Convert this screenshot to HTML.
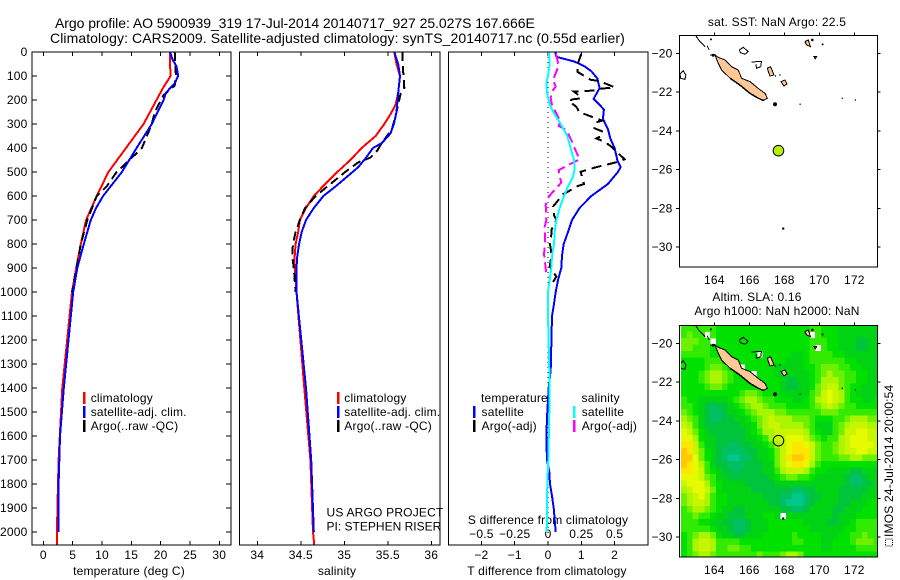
<!DOCTYPE html>
<html>
<head>
<meta charset="utf-8">
<title>Argo profile 5900939_319</title>
<style>
html,body{margin:0;padding:0;background:#fff;}
svg{display:block;}
text{font-family:"Liberation Sans",sans-serif;font-size:12px;letter-spacing:.2px;fill:#000;}
.title{font-size:14px;letter-spacing:.2px;}
</style>
</head>
<body>
<svg id="chart" xmlns="http://www.w3.org/2000/svg" width="900" height="580" viewBox="0 0 900 580">
<defs>
<clipPath id="clip-map-sst"><rect x="679.5" y="35.5" width="198" height="231.5"/></clipPath>
<clipPath id="clip-map-sla"><rect x="681" y="325.5" width="196.5" height="231.5"/></clipPath>
</defs>
<text class="title" x="55" y="28" textLength="480">Argo profile: AO 5900939_319 17-Jul-2014 20140717_927 25.027S 167.666E</text>
<text class="title" x="50" y="43" textLength="575">Climatology: CARS2009. Satellite-adjusted climatology: synTS_20140717.nc (0.55d earlier)</text>
<text x="777" y="26" text-anchor="middle">sat. SST: NaN Argo: 22.5</text>
<text x="757" y="301" text-anchor="middle">Altim. SLA: 0.16</text>
<text x="777" y="315" text-anchor="middle">Argo h1000: NaN h2000: NaN</text>
<text x="129" y="575" text-anchor="middle">temperature (deg C)</text>
<text x="337" y="575" text-anchor="middle">salinity</text>
<text x="547" y="575" text-anchor="middle">T difference from climatology</text>
<text x="548" y="524" text-anchor="middle">S difference from climatology</text>
<text x="326.5" y="516.5">US ARGO PROJECT</text>
<text x="326.5" y="530.5" textLength="115">PI: STEPHEN RISER</text>
<text transform="translate(893,537) rotate(-90)">IMOS 24-Jul-2014 20:00:54</text>
<rect x="885.5" y="539" width="7" height="7" fill="none" stroke="#000" stroke-dasharray="1 1"/>
</svg>
<script>
const depthTicks = [0,100,200,300,400,500,600,700,800,900,1000,1100,1200,1300,1400,1500,1600,1700,1800,1900,2000];
const tempTicks = [0,5,10,15,20,25,30];
const salTicks = [34,34.5,35,35.5,36];
const tDiffTicks = [-2,-1,0,1,2];
const sDiffTicks = [-0.5,-0.25,0,0.25,0.5];
const lonTicks = [164,166,168,170,172];
const latTicks = [-20,-22,-24,-26,-28,-30];

const tempClimDepth = [0,50,100,150,200,300,400,500,600,700,800,900,1000,1400,1700,1900,2055];
const tempClimValues = [21.6,21.6,21.7,20.4,19.3,17.1,14.1,11.1,9.1,7.3,6.4,5.6,4.9,3.24,2.6,2.4,2.3];
const tempSatDepth = [0,30,60,100,130,170,200,300,400,500,600,650,700,800,900,1000,1400,1600,1800,2000];
const tempSatValues = [21.6,22,22.7,23,22.4,20.9,20.5,18.5,15.9,13.4,10.2,9,8.1,6.9,5.8,5.1,3.5,2.85,2.6,2.6];
const tempArgoDepth = [0,100,140,180,250,300,400,480,500,560,600,700,800,900,1000];
const tempArgoValues = [22.4,22.6,22.4,20.5,19,18.5,16.8,13.4,12.5,10.8,9.1,7.5,6.4,5.7,4.9];

const salClimDepth = [0,50,100,170,220,260,300,350,400,450,500,550,600,650,700,750,800,850,900,1000,1400,1700,2000,2055];
const salClimValues = [35.575,35.6,35.64,35.62,35.59,35.53,35.46,35.36,35.2,35.07,34.92,34.78,34.65,34.56,34.49,34.47,34.44,34.43,34.43,34.45,34.54,34.61,34.64,34.655];
const salSatDepth = [0,50,100,170,250,300,340,380,400,440,480,520,560,600,650,700,750,800,850,900,1000,1400,1700,2000];
const salSatValues = [35.575,35.62,35.64,35.62,35.6,35.57,35.53,35.43,35.33,35.25,35.16,35.03,34.9,34.76,34.65,34.56,34.51,34.48,34.46,34.45,34.45,34.56,34.62,34.65];
const salArgoDepth = [0,50,100,150,170,250,320,380,410,440,460,500,550,600,650,700,750,800,850,900,950,1000];
const salArgoValues = [35.67,35.67,35.68,35.69,35.65,35.6,35.55,35.43,35.38,35.3,35.16,35.01,34.84,34.67,34.55,34.49,34.44,34.41,34.4,34.42,34.43,34.44];

const tDiffSatDepth = [0,20,40,60,80,110,150,175,195,220,240,280,320,360,400,450,480,500,550,600,650,700,750,800,850,900,950,1000,1050,1100,1325,1400,1500,1600,1700,1750,1800,1850,1900,2000];
const tDiffSatValues = [.22,.25,.8,1.1,1.3,1.48,1.55,1.45,1.37,1.55,1.68,1.65,1.8,1.87,2,2.08,2.18,2.1,1.8,1.3,.95,.72,.6,.47,.42,.4,.3,.23,.18,.12,.08,.02,-.02,-.05,-.03,.04,.06,.12,.17,.23];
const sDiffSatDepth = [0,50,100,130,170,220,260,300,350,400,450,490,520,560,600,650,700,750,800,850,900,950,1000,1100,1325,1500,1700,1800,2000];
const sDiffSatValues = [.005,.0125,0,-.0125,-.0075,.0125,.05,.095,.145,.17,.195,.2,.1875,.15,.12,.0875,.0625,.05,.045,.03,.025,.0125,0,0,.01,.01,.0025,-.005,-.01];
const tDiffArgoDepth = [8,54,82,105,117,119,130,147,153,158,162,165,172,193,197,204,228,253,260,276,286,294,318,332,350,360,374,394,415,447,457,481,499,519,550,561,582,592,624,644,679,700,742,762,797,818,853,894,915,936,971];
const tDiffArgoValues = [1,.88,.88,1.15,1.3,1.55,1.7,2,1.6,1.5,1.2,.78,.85,1,.75,.62,.85,.95,1.13,1.42,1.63,1.42,1.4,1.65,1.6,1.45,1.7,1.9,2.05,2.3,2.12,1.42,.98,1.02,1.08,.85,.6,.45,.27,.15,.18,.25,.1,.1,.05,.08,.1,.05,.15,.25,.1];
const sDiffArgoDepth = [8,58,82,117,144,169,193,221,256,283,308,325,367,408,447,461,492,519,544,582,603,637,700,728,797,839,867,922,936];
const sDiffArgoValues = [.06,.08,.0625,.0375,.0575,.025,.02,.03,.0625,.0875,.08,.1375,.175,.205,.2375,.1875,.08,.0875,.1,.0375,.005,-.0175,-.0125,-.025,-.02,-.03,-.025,-.0125,.005];

const floatLon = 167.666;
const floatLat = -25.027;
const heatLon0 = 162.1;
const heatLat0 = -19.07;
const heatStep = 1/3;
const slaLevelColors = ['#00c88c','#00bf64','#00c43c','#00d214','#00e100','#32eb00','#6ef000','#aaf500','#c8f500','#e6fa00','#ffe600','#ffc800'];
const slaGrid = [
[5,5,5,5,5,5,4,4,4,4,4,4,4,4,4,4,4,4,4,4,4,4,5,5,4,4,4,3,3,3,3,3,3,3],
[5,6,5,5,null,5,4,4,4,4,4,4,4,4,4,4,4,4,4,4,4,4,null,5,4,4,4,3,3,3,3,3,3,3],
[6,6,6,5,5,null,4,4,4,4,4,4,4,4,4,4,4,4,4,4,4,4,5,5,5,4,4,3,3,3,2,2,3,3],
[6,6,5,5,5,4,4,4,4,4,4,4,4,4,4,4,4,4,4,4,4,4,5,null,5,4,4,3,3,3,2,2,3,3],
[5,5,5,5,5,4,4,4,4,4,4,4,4,null,4,4,4,4,4,3,3,4,5,5,5,5,4,4,3,3,3,3,3,3],
[4,4,4,4,5,5,5,4,4,4,4,4,4,4,4,4,4,4,3,3,3,4,5,5,5,5,5,5,4,4,3,3,3,3],
[4,4,4,4,5,6,6,5,4,4,null,4,4,4,4,4,3,3,3,3,3,4,4,5,6,6,6,5,5,4,4,3,3,3],
[4,4,4,5,6,7,7,6,5,4,4,4,null,4,4,4,3,3,3,3,3,3,4,5,6,7,6,6,5,5,4,4,3,3],
[4,4,4,5,6,7,7,6,5,4,4,4,4,4,4,4,4,3,2,2,3,3,4,5,7,7,7,6,5,5,4,4,3,3],
[4,4,4,4,5,6,6,5,4,4,4,4,4,4,4,4,4,3,2,2,3,3,4,6,7,8,8,6,5,4,4,3,3,3],
[4,4,4,4,4,4,4,4,4,4,5,6,6,5,4,4,4,3,3,3,3,3,5,6,8,9,8,7,5,4,3,3,3,3],
[5,4,4,3,3,3,3,3,4,5,6,7,7,6,5,5,4,4,4,3,3,4,5,7,8,9,8,7,5,4,4,3,3,4],
[5,5,4,3,2,1,2,2,3,4,5,6,7,7,6,5,5,5,4,4,4,4,5,6,7,8,7,6,5,5,4,4,4,4],
[6,5,4,3,2,1,1,2,3,3,4,5,6,7,7,7,6,6,5,5,5,5,5,5,6,6,6,5,5,5,5,5,5,5],
[7,6,5,3,2,1,1,2,2,3,3,4,5,6,7,8,7,7,7,6,6,6,5,4,4,4,5,5,6,7,7,7,6,6],
[8,7,5,3,2,2,2,2,2,2,3,3,4,6,7,8,8,7,7,7,7,6,5,3,3,3,5,6,7,8,8,8,7,7],
[9,8,6,4,3,2,2,2,2,2,2,3,4,5,7,7,8,8,8,8,8,7,5,4,3,3,5,6,8,8,9,9,8,8],
[9,9,7,4,3,3,2,2,2,2,2,3,3,4,5,7,8,8,9,9,9,8,6,5,4,5,5,7,8,9,9,9,8,8],
[10,10,8,5,3,3,2,2,1,1,2,2,3,3,4,5,7,8,9,10,10,9,8,6,5,5,6,7,8,9,9,9,9,8],
[11,10,8,6,4,3,2,1,1,1,1,2,2,3,3,4,6,8,9,10,10,10,8,6,5,5,6,7,8,8,9,9,8,8],
[11,11,9,6,4,3,2,1,0,0,1,1,2,3,3,4,6,8,10,11,11,10,8,6,5,5,5,6,6,7,7,6,6,6],
[11,10,9,7,5,3,2,2,1,1,1,2,2,2,3,3,6,8,9,10,10,9,7,5,4,4,4,4,4,4,4,4,4,4],
[10,10,9,8,5,4,3,2,2,1,2,2,2,2,3,3,5,7,8,8,8,7,5,4,4,3,3,3,3,2,2,3,3,3],
[9,9,9,8,6,5,3,3,2,2,2,2,2,2,2,3,4,5,6,6,5,5,4,3,3,3,3,3,2,1,1,2,3,3],
[8,9,9,9,7,5,4,3,3,3,3,2,2,2,2,2,3,3,3,3,3,3,3,3,3,3,3,3,2,1,1,2,2,3],
[7,8,9,9,8,6,4,3,3,3,3,3,2,2,2,2,2,2,2,1,1,2,2,3,3,3,3,2,2,2,2,2,3,3],
[6,7,8,9,7,5,4,4,3,3,3,3,3,3,2,2,2,1,1,0,0,1,2,2,3,3,3,2,2,2,2,3,3,3],
[6,7,8,8,7,5,4,4,3,3,3,3,3,3,3,2,2,1,0,0,0,1,2,3,3,3,3,2,2,3,3,3,4,4],
[5,6,7,7,6,5,4,3,3,2,2,3,3,3,3,3,3,2,2,1,1,2,3,3,3,3,2,2,3,3,3,4,4,4],
[5,5,6,5,5,4,3,3,2,2,2,3,3,3,4,4,3,null,3,3,3,3,3,3,3,3,2,3,3,3,4,4,4,4],
[5,5,5,4,4,3,3,2,2,1,1,2,3,3,3,4,4,4,4,4,4,3,3,3,3,2,2,3,3,4,5,5,5,5],
[5,5,5,5,5,4,3,3,2,1,1,2,3,3,3,4,4,4,4,4,4,4,3,3,3,3,3,3,4,4,5,5,5,5],
[4,5,6,7,7,6,4,3,3,2,2,3,3,3,4,4,4,4,4,5,4,4,4,4,3,3,3,4,4,5,5,6,5,5],
[4,5,7,8,8,7,5,5,5,5,4,4,4,4,4,4,4,4,4,5,5,4,4,4,3,3,4,4,4,5,6,6,6,5],
[4,5,7,8,8,7,5,5,6,6,5,5,4,4,4,4,4,4,4,4,4,4,4,4,3,3,4,4,4,4,5,5,5,5],
[4,5,6,7,7,6,5,5,5,5,5,5,5,6,5,5,5,6,7,7,6,4,4,4,4,4,4,4,4,4,4,4,4,4]
];

const mainIsland = [[164.04,-20.09],[164.23,-20.21],[164.61,-20.34],[164.99,-20.69],[165.37,-20.86],[165.56,-21.29],[166.04,-21.46],[166.51,-21.81],[166.9,-22.07],[167.03,-22.32],[166.8,-22.44],[166.42,-22.27],[166.04,-22.07],[165.47,-21.64],[164.9,-21.29],[164.42,-20.86],[164.23,-20.52]];
const mainIslandSouthCoast = [[164.23,-20.52],[164.42,-20.86],[164.9,-21.29],[165.47,-21.64],[166.04,-22.07],[166.42,-22.27],[166.8,-22.44]];
const filledIslands = [
[[167.03,-20.77],[167.22,-20.69],[167.41,-21.12],[167.18,-21.17],[167.09,-20.95]],
[[167.81,-21.46],[168.04,-21.38],[168.15,-21.58],[167.98,-21.69]],
[[169.18,-19.4],[169.37,-19.31],[169.5,-19.66],[169.28,-19.57]],
[[169.7,-20.17],[169.85,-20.17],[169.77,-20.28]]
];
const outlineIslands = [
[[162.04,-21.07],[162.23,-20.91],[162.38,-21.12],[162.32,-21.34],[162.08,-21.29],[162.04,-21.07]],
[[165.43,-19.83],[165.66,-19.69],[165.94,-19.91],[165.75,-20.05],[165.5,-19.97],[165.43,-19.83]],
[[166.13,-20.46],[166.42,-20.43],[166.7,-20.43],[166.65,-20.69],[166.42,-20.77],[166.38,-20.57]],
[[162.95,-19.1],[163.18,-19.4],[163.47,-19.66]],
[[163.6,-19.62],[163.71,-19.83]],
[[163.75,-20.09],[164.1,-20.09]]
];
const reefDots = [[167.47,-22.63,2],[167.94,-29.05,1.2],[169.6,-19.31,1.3],[170.19,-19.54,1],[163.81,-19.28,1],[168.9,-22.63,.7],[171.31,-22.32,.7],[172.06,-22.41,.7],[167.75,-21.12,.7],[167.5,-21.17,.7],[163.94,-20.1,1.5]];

const svg = document.getElementById('chart');
const NS = 'http://www.w3.org/2000/svg';
function depthY(d){ return 52 + 0.24*d; }
function tempX(v){ return 43.3 + 5.867*v; }
function salX(v){ return 257.3 + 87*(v-34); }
function tDiffX(v){ return 548 + 33.3*v; }
function sDiffX(v){ return 548 + 133.2*v; }
function lonX(v){ return 714.3 + 17.5*(v-164); }
function latYTop(v){ return 53.3 + 19.37*(-20-v); }
function latYBottom(v){ return 343.3 + 19.37*(-20-v); }
function fmtMinus(v){ return String(v).replace('-','\u2212'); }
function add(tag, attrs, parent){
  const e = document.createElementNS(NS, tag);
  for (const k in attrs) e.setAttribute(k, attrs[k]);
  (parent||svg).appendChild(e);
  return e;
}
function label(str, x, y, anchor){
  const e = add('text', {x:x, y:y, 'text-anchor':anchor});
  e.textContent = str;
  
  
  return e;
}
function tickLine(x1, y1, x2, y2){
  const e = add('line', {x1:x1, y1:y1, x2:x2, y2:y2, stroke:'#000', 'stroke-width':1, 'shape-rendering':'crispEdges'});
  
  
}
function frame(x, y, w, h, name){
  const e = add('rect', {x:x, y:y, width:w, height:h, fill:'none', stroke:'#000', 'stroke-width':1, 'shape-rendering':'crispEdges'});
  
  
}
function series(depths, values, xFn, color, width, dash, name){
  const pts = depths.map((d,i)=> xFn(values[i]).toFixed(1)+','+depthY(d).toFixed(1)).join(' ');
  const e = add('polyline', {points:pts, fill:'none', stroke:color, 'stroke-width':width, 'shape-rendering':'crispEdges'});
  if (dash) e.setAttribute('stroke-dasharray', dash);
  
  
}
function legendEntry(mx, tx, y, color, str){
  const m = add('rect', {x:mx-1, y:y-6, width:2.5, height:12, fill:color, 'shape-rendering':'crispEdges'});
  
  
  const t = add('text', {x:tx, y:y+4});
  t.textContent = str;
  
  
}

/* profile panels */
const panelTop = 52, panelBottom = 545;
function xAxisTicks(ticks, xFn, labelY){
  ticks.forEach(v=>{
    tickLine(xFn(v), panelTop, xFn(v), panelTop+4);
    tickLine(xFn(v), panelBottom, xFn(v), panelBottom-4);
    if (labelY) label(fmtMinus(v), xFn(v), labelY, 'middle');
  });
}
depthTicks.forEach(d=>{
  tickLine(32, depthY(d), 37, depthY(d));
  tickLine(231, depthY(d), 226, depthY(d));
  label(d, 27.5, depthY(d)+4, 'end');
});
xAxisTicks(tempTicks, tempX, 559);
xAxisTicks(salTicks, salX, 559);
xAxisTicks(tDiffTicks, tDiffX, 559);
sDiffTicks.forEach(v=>label(fmtMinus(v), sDiffX(v), 538, 'middle'));

const zero = add('line', {x1:tDiffX(0), y1:panelTop, x2:tDiffX(0), y2:panelBottom, stroke:'#000', 'stroke-width':1, 'stroke-dasharray':'1 4', 'shape-rendering':'crispEdges'});



series(tempClimDepth, tempClimValues, tempX, '#ff0000', 2, null, 'temperature-climatology-line');
series(tempArgoDepth, tempArgoValues, tempX, '#000000', 2, '9 5', 'temperature-argo-line');
series(tempSatDepth, tempSatValues, tempX, '#0000ff', 2, null, 'temperature-satellite-line');

series(salClimDepth, salClimValues, salX, '#ff0000', 2, null, 'salinity-climatology-line');
series(salArgoDepth, salArgoValues, salX, '#000000', 2, '9 5', 'salinity-argo-line');
series(salSatDepth, salSatValues, salX, '#0000ff', 2, null, 'salinity-satellite-line');

series(tDiffSatDepth, tDiffSatValues, tDiffX, '#0000ff', 2, null, 'temperature-difference-satellite-line');
series(tDiffArgoDepth, tDiffArgoValues, tDiffX, '#000000', 2, '10 6', 'temperature-difference-argo-line');
series(sDiffArgoDepth, sDiffArgoValues, sDiffX, '#ff00ff', 2, '10 5', 'salinity-difference-argo-line');
series(sDiffSatDepth, sDiffSatValues, sDiffX, '#00ffff', 2, null, 'salinity-difference-satellite-line');

frame(32, panelTop, 199, panelBottom-panelTop, 'temperature-panel-frame');
frame(239.5, panelTop, 200.5, panelBottom-panelTop, 'salinity-panel-frame');
frame(448.5, panelTop, 199.5, panelBottom-panelTop, 'difference-panel-frame');

legendEntry(84, 90.7, 398, '#ff0000', 'climatology');
legendEntry(84, 90.7, 412, '#0000ff', 'satellite-adj. clim.');
legendEntry(84, 90.7, 426, '#000000', 'Argo(..raw -QC)');
legendEntry(338, 344.3, 398, '#ff0000', 'climatology');
legendEntry(338, 344.3, 412, '#0000ff', 'satellite-adj. clim.');
legendEntry(338, 344.3, 426, '#000000', 'Argo(..raw -QC)');
const h1 = add('text', {x:481, y:402});
h1.textContent = 'temperature';


const h2 = add('text', {x:581.5, y:402});
h2.textContent = 'salinity';


legendEntry(474, 481.5, 412, '#0000ff', 'satellite');
legendEntry(474, 481.5, 426, '#000000', 'Argo(-adj)');
legendEntry(574, 581.7, 412, '#00ffff', 'satellite');
legendEntry(574, 581.7, 426, '#ff00ff', 'Argo(-adj)');

/* maps */
function drawMap(yFn, top, labelY, clipId, withHeat, markerFill, prefix){
  const g = add('g', {'clip-path':'url(#'+clipId+')'});
  
  
  if (withHeat){
    slaGrid.forEach((row,r)=>{
      row.forEach((v,c)=>{
        if (v===null) return;
        const lonL = heatLon0 + c*heatStep, latT = heatLat0 - r*heatStep;
        const x = lonX(lonL), y = yFn(latT);
        const cell = add('rect', {x:x.toFixed(2), y:y.toFixed(2), width:(lonX(lonL+heatStep)-x+.4).toFixed(2), height:(yFn(latT-heatStep)-y+.4).toFixed(2), fill:slaLevelColors[v], 'shape-rendering':'crispEdges'}, g);
        
        
      });
    });
  }
  const toPts = a => a.map(p=>lonX(p[0]).toFixed(1)+','+yFn(p[1]).toFixed(1)).join(' ');
  const main = add('polygon', {points:toPts(mainIsland), fill:'#ffc896', stroke:'#000', 'stroke-width':1, 'shape-rendering':'crispEdges'}, g);
  
  
  const south = add('polyline', {points:toPts(mainIslandSouthCoast.slice(2)), fill:'none', stroke:'#000', 'stroke-width':1.5, 'shape-rendering':'crispEdges'}, g);
  
  
  filledIslands.forEach(a=>{
    const p = add('polygon', {points:toPts(a), fill:'#ffc896', stroke:'#000', 'stroke-width':1, 'shape-rendering':'crispEdges'}, g);
    
    
  });
  outlineIslands.forEach(a=>{
    const p = add('polyline', {points:toPts(a), fill:'none', stroke:'#000', 'stroke-width':1, 'shape-rendering':'crispEdges'}, g);
    
    
  });
  reefDots.forEach(a=>{
    const p = add('circle', {cx:lonX(a[0]).toFixed(1), cy:yFn(a[1]).toFixed(1), r:a[2], fill:'#000'}, g);
    
    
  });
  const marker = add('circle', {cx:lonX(floatLon), cy:yFn(floatLat), r:5.3, fill:markerFill, stroke:'#000', 'stroke-width':1}, g);
  
  
  const bottom = top + 231.7;
  lonTicks.forEach(v=>{
    tickLine(lonX(v), top, lonX(v), top-3);
    label(v, lonX(v), labelY, 'middle');
  });
  latTicks.forEach(v=>{
    tickLine(679.5, yFn(v), 676, yFn(v));
    tickLine(877.5, yFn(v), 880.5, yFn(v));
    label(fmtMinus(v), 672.5, yFn(v)+4, 'end');
  });
  frame(679.5, top, 198, 231.7, prefix+'-map-frame');
}
drawMap(latYTop, 35.5, 284, 'clip-map-sst', false, '#b8f000', 'sst');
drawMap(latYBottom, 325.5, 574, 'clip-map-sla', true, 'none', 'sla');
</script>
</body>
</html>
